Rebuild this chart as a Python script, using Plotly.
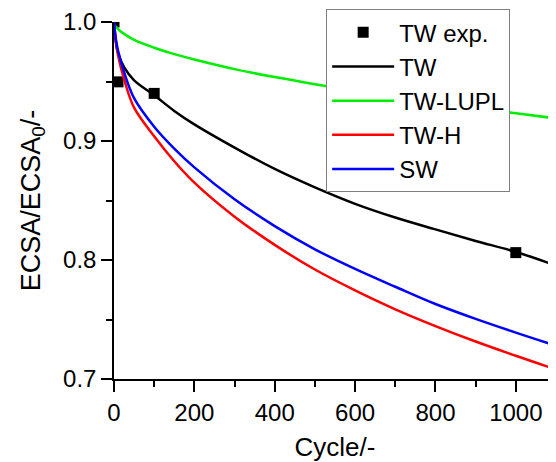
import plotly.graph_objects as go

# Experimental data (TW exp.)
exp_cycle = [0, 10, 100, 1000]
exp_ecsa = [1.0, 0.9497, 0.940, 0.8062]

# Model curves
cycle = [0, 5, 10, 25, 50, 100, 150, 200, 300, 400, 500, 600, 700, 800, 900, 1000, 1100]
tw = [1.0, 0.982, 0.974, 0.962, 0.951, 0.9385, 0.9253, 0.914, 0.8945, 0.8765, 0.861, 0.8472,
      0.8357, 0.8257, 0.816, 0.8068, 0.7953]
tw_lupl = [0.997, 0.996, 0.994, 0.990, 0.985, 0.9784, 0.973, 0.9685, 0.9604, 0.9537, 0.9477,
           0.9422, 0.937, 0.932, 0.9276, 0.9233, 0.919]
tw_h = [1.0, 0.983, 0.972, 0.952, 0.928, 0.904, 0.883, 0.865, 0.8364, 0.8127, 0.792, 0.7745,
        0.7586, 0.7445, 0.7315, 0.7195, 0.708]
sw = [1.0, 0.985, 0.976, 0.958, 0.936, 0.912, 0.8936, 0.8778, 0.851, 0.8285, 0.809, 0.7925,
      0.7775, 0.763, 0.7505, 0.739, 0.728]

x_ticks = [0, 200, 400, 600, 800, 1000]
y_ticks = [0.7, 0.8, 0.9, 1.0]
y_ticklabels = ["0.7", "0.8", "0.9", "1.0"]

FONT = "Liberation Sans, Arial, sans-serif"

fig = go.Figure()
fig.add_trace(go.Scatter(x=exp_cycle, y=exp_ecsa, mode="markers", name="TW exp.",
                         marker=dict(symbol="square", size=11, color="black")))
line_kw = dict(width=2.5, shape="spline", smoothing=1.0)
fig.add_trace(go.Scatter(x=cycle, y=tw, mode="lines", name="TW",
                         line=dict(color="black", **line_kw)))
fig.add_trace(go.Scatter(x=cycle, y=tw_lupl, mode="lines", name="TW-LUPL",
                         line=dict(color="#00ee00", **line_kw)))
fig.add_trace(go.Scatter(x=cycle, y=tw_h, mode="lines", name="TW-H",
                         line=dict(color="#ff0000", **line_kw)))
fig.add_trace(go.Scatter(x=cycle, y=sw, mode="lines", name="SW",
                         line=dict(color="#0000ff", **line_kw)))

# page body adds an 8px offset, so the figure is 8px smaller than the window
fig.update_layout(
    width=548, height=454,
    margin=dict(l=106, r=0, t=14, b=83, autoexpand=False),
    paper_bgcolor="white", plot_bgcolor="white",
    font=dict(family=FONT, size=24, color="black"),
    showlegend=True,
    legend=dict(
        x=0.48, y=1.036, xanchor="left", yanchor="top",
        bgcolor="white", bordercolor="#7f7f7f", borderwidth=1,
        font=dict(family=FONT, size=24, color="black"),
        itemwidth=62, tracegroupgap=0,
    ),
)
fig.update_xaxes(
    range=[0, 1100], tickvals=x_ticks, ticks="outside", ticklen=11, tickwidth=1.5,
    tickcolor="black", showline=True, linecolor="black", linewidth=1.5,
    showgrid=False, zeroline=False, automargin=False, ticklabeloverflow="allow",
    minor=dict(ticks="outside", ticklen=6, dtick=100, tick0=0, tickcolor="black", tickwidth=1.5),
    tickfont=dict(size=24),
    title=dict(text="Cycle/-", font=dict(size=26)),
)
fig.update_yaxes(
    range=[0.7, 1.0], tickvals=y_ticks, ticktext=y_ticklabels, ticks="outside", ticklen=11,
    tickwidth=1.5, tickcolor="black", showline=True, linecolor="black", linewidth=1.5,
    showgrid=False, zeroline=False, automargin=False, ticklabeloverflow="allow",
    minor=dict(ticks="outside", ticklen=6, dtick=0.05, tick0=0.7, tickcolor="black", tickwidth=1.5),
    tickfont=dict(size=24),
    title=dict(text="ECSA/ECSA<sub>0</sub>/-", font=dict(size=27)),
)

fig.write_html("out.html")
